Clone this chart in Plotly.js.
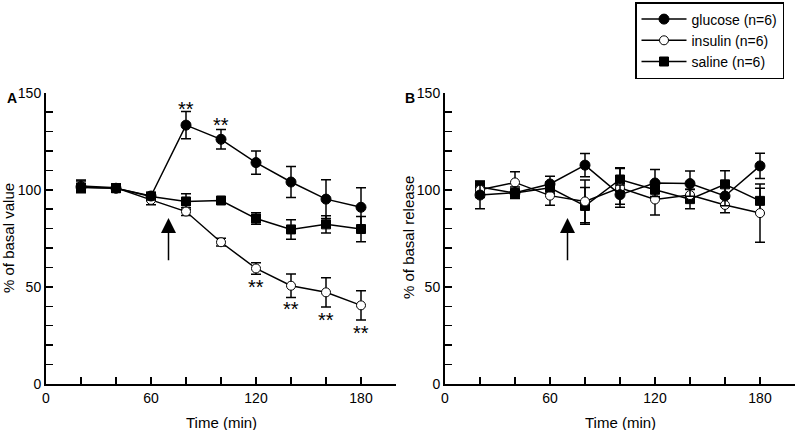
<!DOCTYPE html>
<html>
<head>
<meta charset="utf-8">
<script src="https://cdn.plot.ly/plotly-3.0.1.min.js"></script>
<style>html,body{margin:0;padding:0;background:#fff;}#chart{width:797px;height:430px;}</style>
</head>
<body>
<div id="chart"></div>
<script>
// ---- data ----
const times = [20, 40, 60, 80, 100, 120, 140, 160, 180];
const seriesNames = ["glucose (n=6)", "insulin (n=6)", "saline (n=6)"];

// Panel A: % of basal value
const glucoseA = [101.5, 100.8, 96.8, 133.3, 126, 114, 104, 95.2, 91];
const glucoseAErr = [3, 2, 2, 7, 5, 6, 8, 10, 10];
const insulinA = [102, 101, 94.8, 88.8, 73, 59.5, 50.6, 47.2, 40.5];
const insulinAErr = [3, 2, 2.5, 2, 2, 3, 6, 7.5, 7.5];
const salineA = [101.2, 100.8, 96.5, 94, 94.5, 85.2, 79.6, 82.2, 79.8];
const salineAErr = [2, 2, 2, 4, 1.5, 3, 5, 4.5, 6.5];

// Panel B: % of basal release
const glucoseB = [97.3, 98.5, 103, 112.7, 97.5, 103.5, 103.2, 96.8, 112.3];
const glucoseBErr = [7, 3, 4, 6, 5, 7, 6.5, 5, 6.5];
const insulinB = [100, 103.8, 97, 94, 101, 95, 97.3, 92.2, 88];
const insulinBErr = [4, 5.5, 5, 11, 10, 8, 3, 4, 15];
const salineB = [101.5, 98.3, 101, 91.7, 105.3, 100, 95.2, 102.8, 94.3];
const salineBErr = [3, 2, 3, 9.5, 6, 4, 5, 7, 6.5];

// significance marks (panel A)
const starX = [80, 100, 120, 140, 160, 180];
const starY = [143.5, 135.5, 52, 40.5, 35, 28.5];
const starText = ["**", "**", "**", "**", "**", "**"];

// stimulus arrow
const arrowX = 70, arrowFrom = 63, arrowTo = 85.5;

// ticks and titles
const xTickVals = [0, 20, 40, 60, 80, 100, 120, 140, 160, 180];
const xTickText = ["0", "", "", "60", "", "", "120", "", "", "180"];
const yTickVals = [0, 10, 20, 30, 40, 50, 60, 70, 80, 90, 100, 110, 120, 130, 140, 150];
const yTickText = ["0", "", "", "", "", "50", "", "", "", "", "100", "", "", "", "", "150"];
const xTitle = "Time (min)";
const yTitleA = "% of basal value";
const yTitleB = "% of basal release";

// ---- styling ----
const FONT = "'Liberation Sans', Arial, sans-serif";
function mk(y, err, idx, xa, ya, show) {
  return {
    x: times, y: y, type: "scatter", mode: "lines+markers",
    name: seriesNames[idx], showlegend: show, xaxis: xa, yaxis: ya,
    line: {color: "#000", width: 1.5},
    marker: {symbol: idx === 2 ? "square" : "circle", size: idx === 2 ? 9 : (idx === 1 ? 9 : 10),
             color: idx === 1 ? "#fff" : "#000", line: {color: "#000", width: 1}},
    error_y: {type: "data", array: err, visible: true, color: "#000", thickness: 1.5, width: 5}
  };
}
const data = [
  mk(salineA, salineAErr, 2, "x", "y", false),
  mk(insulinA, insulinAErr, 1, "x", "y", false),
  mk(glucoseA, glucoseAErr, 0, "x", "y", false),
  mk(salineB, salineBErr, 2, "x2", "y2", false),
  mk(insulinB, insulinBErr, 1, "x2", "y2", false),
  mk(glucoseB, glucoseBErr, 0, "x2", "y2", false),
  // legend entries
  Object.assign(mk([null], [0], 0, "x", "y", true), {x: [null], error_y: {visible: false}}),
  Object.assign(mk([null], [0], 1, "x", "y", true), {x: [null], error_y: {visible: false}}),
  Object.assign(mk([null], [0], 2, "x", "y", true), {x: [null], error_y: {visible: false}})
];

function xa(domain, anchor) {
  return {domain: domain, anchor: anchor, range: [0, 200], showgrid: false, zeroline: false,
    showline: true, linecolor: "#000", linewidth: 2, ticks: "inside", ticklen: 7, tickwidth: 1.5,
    tickcolor: "#000", tickmode: "array", tickvals: xTickVals, ticktext: xTickText,
    tickfont: {family: FONT, size: 14, color: "#000"}};
}
function ya(domain, anchor) {
  return {domain: domain, anchor: anchor, range: [0, 150], showgrid: false, zeroline: false,
    showline: true, linecolor: "#000", linewidth: 2, ticks: "inside", ticklen: 7, tickwidth: 1.5,
    tickcolor: "#000", tickmode: "array", tickvals: yTickVals, ticktext: yTickText,
    tickfont: {family: FONT, size: 14, color: "#000"}};
}

const annotations = [];
starX.forEach((x, i) => annotations.push({x: x, y: starY[i], xref: "x", yref: "y", text: starText[i],
  showarrow: false, font: {family: FONT, size: 20, color: "#000"}, yanchor: "middle", xanchor: "center", yshift: -4}));
[["x", "y"], ["x2", "y2"]].forEach(r => annotations.push({x: arrowX, y: arrowTo, ax: arrowX, ay: arrowFrom,
  xref: r[0], yref: r[1], axref: r[0], ayref: r[1], showarrow: true, arrowhead: 2, arrowsize: 2,
  arrowwidth: 1.5, arrowcolor: "#000", text: ""}));
const titleFont = {family: FONT, size: 15, color: "#000"};
[[221 / 797], [620 / 797]].forEach(p => annotations.push({x: p[0], y: 8 / 430, xref: "paper", yref: "paper",
  text: xTitle, showarrow: false, xanchor: "center", yanchor: "middle", font: titleFont}));
[[8 / 797, yTitleA], [408 / 797, yTitleB]].forEach(p => annotations.push({x: p[0], y: 1 - 238 / 430,
  xref: "paper", yref: "paper", text: p[1], textangle: -90, showarrow: false, xanchor: "center",
  yanchor: "middle", font: titleFont}));
annotations.push({x: 5 / 797, y: 1 - 98 / 430, xref: "paper", yref: "paper", text: "<b>A</b>", showarrow: false,
  xanchor: "left", yanchor: "middle", font: {family: FONT, size: 14, color: "#000"}});
annotations.push({x: 403 / 797, y: 1 - 98 / 430, xref: "paper", yref: "paper", text: "<b>B</b>", showarrow: false,
  xanchor: "left", yanchor: "middle", font: {family: FONT, size: 14, color: "#000"}});

const layout = {
  width: 797, height: 430, margin: {l: 0, r: 0, t: 0, b: 0},
  paper_bgcolor: "#fff", plot_bgcolor: "#fff",
  font: {family: FONT, color: "#000"},
  xaxis: xa([46 / 797, 396 / 797], "y"),
  yaxis: ya([46 / 430, 337.3 / 430], "x"),
  xaxis2: xa([445 / 797, 795 / 797], "y2"),
  yaxis2: ya([46 / 430, 337.3 / 430], "x2"),
  showlegend: true,
  legend: {x: 635 / 797, y: 1 - 2 / 430, xanchor: "left", yanchor: "top", bgcolor: "#fff",
    bordercolor: "#000", borderwidth: 1.5, font: {family: FONT, size: 14, color: "#000"},
    tracegroupgap: 0, itemwidth: 45},
  annotations: annotations
};

Plotly.newPlot("chart", data, layout, {staticPlot: true, displayModeBar: false});
</script>
</body>
</html>
